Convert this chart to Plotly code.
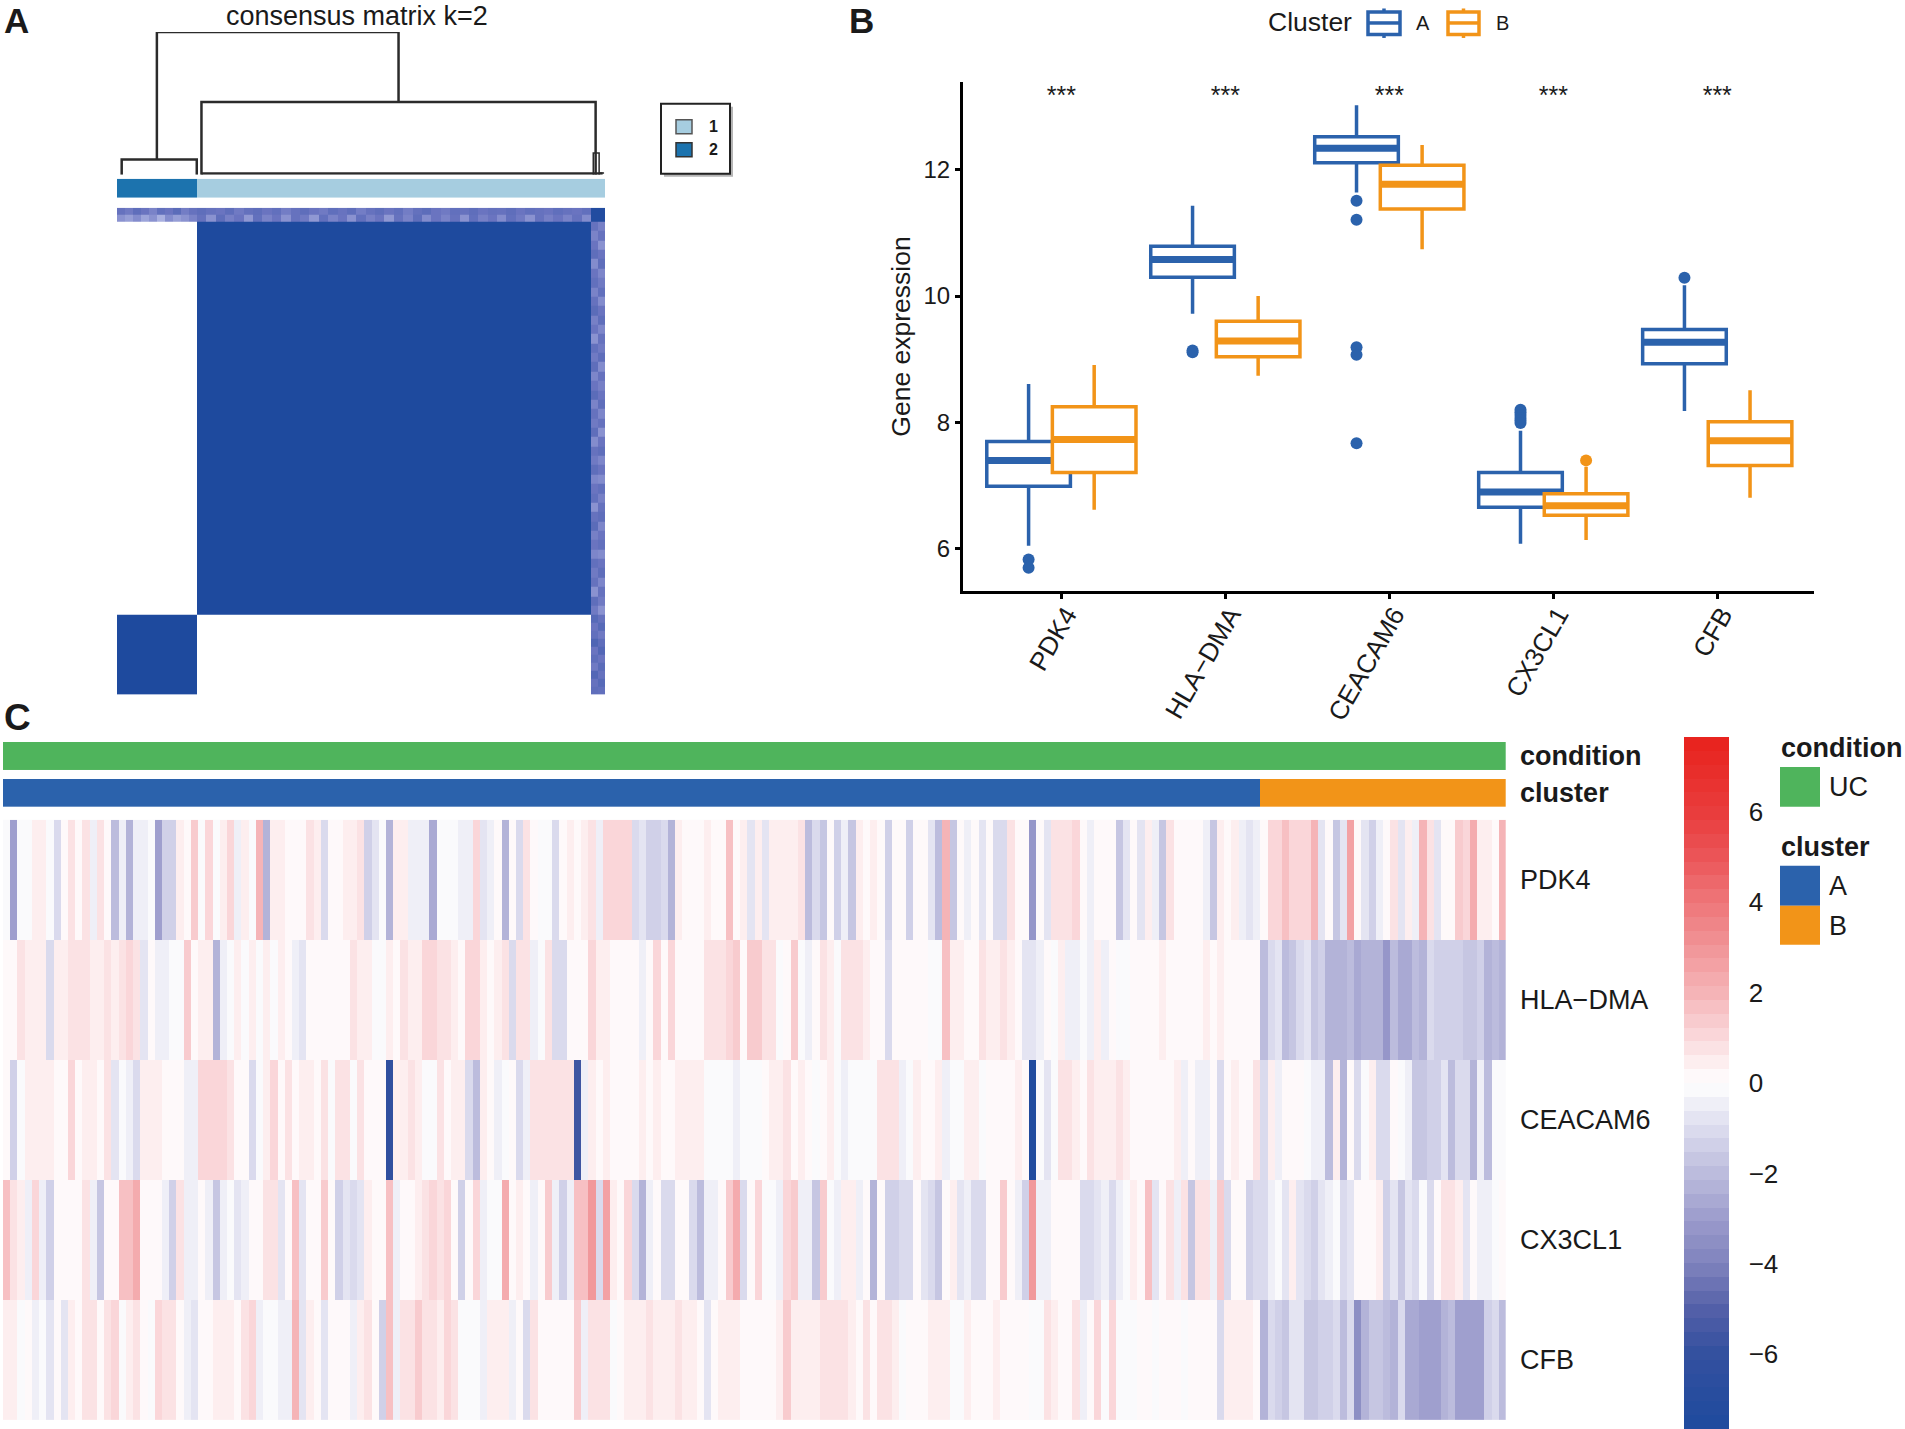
import numpy as np
import plotly.graph_objects as go

W, H = 1905, 1429
FONT = "Liberation Sans"
INK = "#1a1a1a"
BLUE = "#2B62AC"
ORANGE = "#F29418"
GREEN = "#4FB45C"


def X(p):
    return p / W


def Y(p):
    return 1 - (p + 1) / H


# ---------- Panel A data ----------
annotation_a = [2] * 34 + [1] * 174
top_band_upper = [.62, .58, .66, .60, .55, .64, .60, .68, .57, .62,
                  .66, .62, .60, .66, .58, .63, .66, .60, .64, .57, .62, .66, .60, .58, .65, .61,
                  .66, .57, .62, .66, .60, .64, .57, .63, .67, .60, .58, .64, .62, .66, .60, .63,
                  .62, .66, .60, .64, .62, .60, .65, .62, .60, .64, .98, .98]
top_band_lower = [.50, .46, .52, .44, .50, .40, .52, .46, .50, .55,
                  .62, .50, .66, .56, .60, .48, .64, .55, .60, .50, .62, .58, .48, .64, .55, .60,
                  .50, .64, .56, .60, .48, .62, .55, .66, .52, .60, .55, .62, .50, .64, .56, .60,
                  .52, .64, .58, .50, .62, .56, .60, .55, .62, .52, .98, .98]
right_band_left = [.62, .55, .60, .66, .52, .60, .64, .55, .62, .68, .56, .60, .50, .64, .58, .66, .54, .60,
                   .68, .55, .62, .58, .66, .52, .62, .58, .66, .54, .60, .64, .50, .62, .68, .56, .60, .54,
                   .64, .58, .62, .50, .66, .58, .70, .60, .64, .74, .60, .66, .58, .72, .62, .66]
right_band_right = [.56, .62, .50, .60, .66, .54, .58, .64, .52, .60, .66, .54, .62, .58, .66, .52, .62, .56,
                    .60, .66, .54, .62, .50, .60, .66, .54, .60, .52, .64, .56, .62, .66, .54, .60, .64, .52,
                    .60, .66, .54, .62, .58, .50, .62, .70, .58, .66, .72, .60, .68, .62, .70, .64]
dendro_x = [[2, 2, 34, 34], [17, 17, 120, 120], [36, 36, 204, 204], [36, 207], [203, 203, 205.5, 205.5], [205.5, 207.6]]
dendro_y = [[0, .106, .106, 0], [.106, 1, 1, .51], [0, .51, .51, 0], [.008, .008], [0, .153, .153, 0], [.012, .012]]
dendro_w = [2.5, 2.5, 2.5, 2.5, 1.5, 1.5]

# ---------- Panel B data ----------
genes_b = ["PDK4", "HLA\u2212DMA", "CEACAM6", "CX3CL1", "CFB"]
a_q1 = [6.99, 10.30, 12.11, 6.66, 8.93]
a_med = [7.40, 10.58, 12.34, 6.90, 9.27]
a_q3 = [7.70, 10.79, 12.52, 7.21, 9.47]
a_low = [6.05, 9.72, 11.64, 6.08, 8.18]
a_high = [8.61, 11.43, 13.02, 7.87, 10.17]
b_q1 = [7.21, 9.04, 11.38, 6.53, 7.32]
b_med = [7.73, 9.29, 11.77, 6.68, 7.71]
b_q3 = [8.25, 9.60, 12.07, 6.87, 8.01]
b_low = [6.62, 8.74, 10.74, 6.14, 6.81]
b_high = [8.91, 10.00, 12.39, 7.30, 8.51]
a_out_gene = [0, 0, 1, 1, 2, 2, 2, 2, 2, 3, 3, 3, 3, 3, 3, 4]
a_out_val = [5.83, 5.70, 9.14, 9.11, 11.51, 11.21, 9.19, 9.07, 7.67, 8.20, 8.16, 8.12, 8.07, 8.03, 7.99, 10.29]
b_out_gene = [3]
b_out_val = [7.40]
star_labels = ["***"] * 5

# ---------- Panel C data ----------
genes_c = ["PDK4", "HLA\u2212DMA", "CEACAM6", "CX3CL1", "CFB"]
condition = [0] * 208
cluster = ["A"] * 174 + ["B"] * 34
pdk4 = [-.1, -3, -.1, -.1, .4, .4, -.2, -1, 0, .7, .1, .9, -.5, .9, 0, -1.9, -.5, -2.2, -.6, -.6, -.2, -2.9, -1.3, -1.5, .6, 0,
        1.4, -.1, 1.1, -.2, .4, 1.1, -.5, .4, -.1, 2.1, -2.2, .6, .6, 0, 0, 0, .8, .6, -1, 0, 0, .4, .4, .7, -1.4, -.8,
        -.3, -2.2, .6, .4, -.6, -.6, -.6, -2.6, -.1, -.1, -.1, -.5, -.5, 1.2, -.9, -.5, .3, -2.2, 0, -1, .9, 0, -.1, -.1, -1, 0,
        .6, 0, .4, .9, -.6, 1.2, 1, 1.2, 1.2, -1.1, -.8, -1.4, -1.4, -1.1, -2.2, .5, 0, .3, 0, .4, .1, .3, 1.6, 0, .6, -.9, .6,
        -.9, .6, .4, .4, .4, .9, -2, -1.2, -1.8, .1, -1.5, -.5, -1.6, .5, 0, .4, 0, -1.5, .3, 0, -1.4, 0, 0, -.7, -2, 1.9, -1.8,
        0, -.6, 0, -.9, 0, -1.2, -1.2, .9, 0, 0, -3.3, .3, -.9, .8, .8, .8, 1, 0, -.4, .2, .1, .1, -1.8, -.9, 0,
        -.9, .6, -.5, -1.8, .8, .3, .3, 0, 0, -.5, -1.6, .5, 0, .4, -.4, -.9, -.4, 0, 1.2, 1.2, 1.7, 1.2, 1.2, 1.2, 2.1, -.8,
        0, -1.6, -.9, 2.6, 0, -.9, -1.5, -.5, 0, .7, -.9, .6, -.4, 1.9, .7, -.8, .3, 0, 1.4, 1.1, 2.2, .5, .5, 0, 1.9]
hla_dma = [.1, .1, .8, .4, .4, .4, -1, .4, .4, .9, .8, .9, .4, .6, .9, .4, .7, 1.1, .8, -.8, 0, -.5, -.5, -.2, -.2, 1.5,
           .1, .6, .5, -2.4, -.4, -.1, .4, -.1, .6, -.1, .4, -.1, .6, 0, -.5, -.9, .3, .3, .3, .3, 0, 0, .9, .4, .6, -.1,
           -.2, .6, 0, .9, .4, .6, 1.1, 1.1, .9, .9, .4, 0, 1.1, 1.2, .4, .1, .4, .7, -1.2, .7, .7, -.4, -.1, .9, -1.1, -1.1,
           0, 0, .2, 1.1, .4, .4, .1, 0, 0, 0, -.4, .1, 1, 0, 1.1, .3, 0, .3, 0, .7, .7, .7, 1, 1.4, 0, 1.3, 1.3,
           .7, .7, -.1, 0, 1.3, -.2, -.4, .3, .9, .6, -.2, .9, .9, .8, .5, .2, .1, -1, 0, 0, 0, 0, .1, -.2, -.2, 1.6, .6,
           .6, .1, 0, .8, .6, .6, .8, .6, 0, -.9, -.9, -.5, .1, -.1, .4, -.5, -.5, -.1, -.5, .5, -.4, 0, -.1, -.2, 0,
           0, .2, 0, .6, .3, .3, .2, 0, 0, .6, 0, .6, .1, 0, 0, 0, 0, -2, -1.1, -.9, -2, -1.7, -1.2, -.9, -1.8, -1.4,
           -2.3, -2.3, -2.3, -1.9, -2.6, -2.4, -2.4, -2.3, -3.1, -1.9, -2.6, -2.6, -1.9, -2.4, -1.2, -1.4, -1.4, -1.4, -1.4,
           -1.8, -1.8, -1.3, -2.4, -1.9, -2.2]
ceacam6 = [.1, -1.3, -.3, .4, .4, .5, .6, .1, .1, 1.2, 0, .4, .4, 0, .7, -.8, -.1, -.5, -1, .5, .4, .4, .1, .3, .1, -.5,
           -.5, 1, 1, 1.2, 1, .9, 0, .2, -1.2, -.1, .6, 1.2, 0, .7, .1, .4, .5, .2, .7, -.1, .8, .9, -.1, .9, .3, .3,
           0, -6.2, .5, .5, .7, .6, -.2, -.2, .9, 0, .4, .4, -1, -2, .4, 0, -.4, -.1, .2, -1.2, -.5, .9, .7, .7, .7, .7,
           .7, -5.7, -.6, .5, .3, .5, 0, 0, 0, .3, .5, .1, .5, .1, 0, .6, .5, .5, .5, -.1, -.1, -.1, -.1, -.5, -.2, -.2, -.2,
           0, .4, .4, .8, 0, .5, .1, -.2, .2, .4, -.1, -.5, -.2, -.2, -.2, -.2, .7, .7, .7, -.4, -.1, .4, 0, .3, .6, -.5,
           -.1, -.1, .4, .4, -.1, .2, 0, 0, .3, .6, .2, -7.4, -.1, -.9, -.1, .7, .7, .4, .1, .9, .5, .5, .6, .7, .4, .1,
           0, .3, .1, .1, 0, .4, -.6, 0, -.6, -.6, 0, -1, .1, .4, 0, .1, .8, -1, .4, -.4, 0, 0, 0, -.1, -.5, -.5,
           -1.9, .4, -2.3, .3, -1.2, -.1, .5, -1.2, -1.2, 0, -.1, -.5, -1.8, -1.8, -1.4, -1.4, -.9, -1.9, -1, -1, -2.3, -.5,
           -2, -.2, -.2]
cx3cl1 = [1.6, .7, .4, -.4, 1, -.4, -1.5, .2, 0, .3, 0, .9, -.5, -1.6, 0, .1, 1.7, 1.7, 2.3, 0, 0, .3, -.6, -1.4, .8, -.5,
          -.5, .3, -.5, -1.8, -.6, -.1, -.9, -.6, 0, 0, .9, .9, -.8, .2, 1.6, -.9, .1, 0, 1.5, 0, -1.4, -.9, -1.2, -.7, .4, 0,
          0, 1.6, -.5, .3, 0, .6, .7, 1.1, .8, 1.1, .3, -1.4, 0, 1.1, -.5, -.2, -.2, 2.3, .1, .6, 0, -.5, 0, 1.3, -.5, -1.3,
          -.4, 1.6, 1.8, 3, -1.2, 2.6, .4, 0, 1.1, -1, -2.2, -.5, 0, -1.2, -1, 0, 0, -1.1, -2, -.5, -.5, .3, 1.3, 2.4, -1.1, 0, 1.2,
          -.1, -.1, -.4, 1.2, 1.5, -.5, -.5, -1.8, 1.4, -.1, -.5, .6, .5, -.4, .1, -2.4, .3, -1.3, -1.3, -1, -1.2, .2, -.9, -1, -1.7, .1,
          .5, -.9, -.4, -1.2, -1.2, .1, .3, 1.4, 0, -.6, -1.3, 3, -.5, -.5, .3, .3, 0, 0, -1, -1, -.7, -.5, -1.1, -.4, -.1, .6,
          .3, 1.8, -.9, .3, .9, -.6, .9, -1.6, .9, .9, -.4, 1.3, -1, 0, .3, -1.3, -1.1, -1.1, -.6, -.3, -.9, .6, -.7, -1.2, -1.5, -.8,
          -.5, -.2, -1, -.9, 0, 0, 0, .5, -1.4, -.9, -1.6, -.9, -1.2, -.1, -1.2, 0, .8, .8, .4, -.8, 0, -.6, -.6, -.3, 0]
cfb = [.4, .5, -.1, .3, -.6, -.1, -.9, 0, -.9, .4, 0, .7, .7, 0, .7, 1.1, -.1, .6, .8, .3, -.1, 1.2, .9, .9, .1, -.5,
       -.9, 0, 0, .6, .4, .4, .1, .8, 1, -.4, -.1, -.1, -.5, -.5, 1.9, -.7, .4, .1, -.9, .2, 0, 0, -.4, .5, .7, 0,
       -1.4, 1.6, -.5, .7, .9, 1.5, .7, .8, .4, 1, .8, -.1, -.1, -.1, -.5, .6, .6, .5, -.5, 0, -1, .7, 0, 0, 0, 0,
       .2, 1.4, -.6, .7, .7, .9, -.1, 0, .6, .6, .4, .9, .4, .4, .6, .8, .5, .4, .1, -.8, .3, .4, .4, .6, 0, 0, 0,
       .1, .1, .6, 1.4, .4, .5, .5, .6, .7, .9, .9, .7, .6, 0, .9, .2, .9, .7, .4, -.3, .3, .3, .1, .6, .4, .5, -.1,
       -.1, .6, .3, 0, .1, .5, .3, .3, .2, 0, -.1, -.1, .7, .6, 0, 0, .7, -.4, .1, 1.1, -.1, 1, -.2, -.2, -.1,
       .1, .3, -.1, 0, 0, .3, -.1, 0, 0, 0, .2, -1, .4, .6, .6, .4, 0, -2.4, -1.1, -1.4, -1.8, -.9, -.9, -1.7, -1.7, -1.5,
       -1.5, -1, -2, -1, -3.5, -2.3, -1.7, -1.7, -1.9, -2.2, -1, -2.5, -2.5, -2.9, -2.9, -3, -2.2, -2, -3, -3, -3, -3, -1.5, -1.1, -2]
colorbar_ticks = [6, 4, 2, 0, -2, -4, -6]
ramp_values = [-7.65, -6, -5, -4, -3, -2, -1, 0, 1, 2, 3, 4, 5, 6, 7.65]
ramp_colors = ["#1E4A9E", "#33509F", "#5460A8", "#7F82BD", "#9C9CCC", "#BCBCDD", "#DCDCEE", "#FFFFFF",
               "#FAD9DC", "#F5B4B7", "#F19598", "#EE7679", "#EB5558", "#E93C3C", "#E8211C"]


def rgb(hexs):
    return [int(hexs[i:i + 2], 16) for i in (1, 3, 5)]


ramp_rgb = np.array([rgb(c) for c in ramp_colors], float)
scale_c = []
for i in range(50):
    v = -7.65 + (i + .5) * 15.3 / 50
    c = [int(round(np.interp(v, ramp_values, ramp_rgb[:, k]))) for k in range(3)]
    col = f"rgb({c[0]},{c[1]},{c[2]})"
    scale_c += [[i / 50, col], [(i + 1) / 50, col]]

heat_rows = [pdk4, hla_dma, ceacam6, cx3cl1, cfb]
for r in heat_rows:
    assert len(r) == 208, len(r)

fig = go.Figure()

# Panel A matrix
a_x = list(np.linspace(0, 34, 11)) + list(np.linspace(34, 202, 43)[1:]) + [205, 208]
a_y = [0, 3, 6] + list(np.linspace(6, 174, 43)[1:]) + list(np.linspace(174, 208, 11)[1:])
a_z = [top_band_upper, top_band_lower]
for r in range(42):
    a_z.append([0] * 10 + [1] * 42 + [right_band_left[r], right_band_right[r]])
for r in range(42, 52):
    a_z.append([1] * 10 + [0] * 42 + [right_band_left[r], right_band_right[r]])
fig.add_trace(go.Heatmap(x=a_x, y=a_y, z=a_z, zmin=0, zmax=1, showscale=False, hoverinfo="skip",
                         colorscale=[[0, "#FFFFFF"], [.4, "#A9B0E0"], [.6, "#6A74C0"], [1, "#1E4A9E"]],
                         xaxis="x", yaxis="y"))
fig.add_trace(go.Heatmap(z=[annotation_a], zmin=1, zmax=2, showscale=False, hoverinfo="skip",
                         colorscale=[[0, "#A6CDE0"], [1, "#1C73AE"]], xaxis="x2", yaxis="y2"))
for dx, dy, dw in zip(dendro_x, dendro_y, dendro_w):
    fig.add_trace(go.Scatter(x=dx, y=dy, mode="lines", line=dict(color="#2b2b2b", width=dw), showlegend=False,
                             hoverinfo="skip", xaxis="x3", yaxis="y3"))

# Panel B boxes
pos_a = [i - .2 for i in range(5)]
pos_b = [i + .2 for i in range(5)]
for pos, q1, med, q3, low, high, colr in [(pos_a, a_q1, a_med, a_q3, a_low, a_high, BLUE),
                                          (pos_b, b_q1, b_med, b_q3, b_low, b_high, ORANGE)]:
    fig.add_trace(go.Box(x=pos, q1=q1, median=med, q3=q3, lowerfence=low, upperfence=high, width=.51,
                         fillcolor="white", line=dict(color=colr, width=3.5), whiskerwidth=0, boxpoints=False,
                         showlegend=False, hoverinfo="skip", xaxis="x4", yaxis="y4"))
    fig.add_trace(go.Box(x=pos, q1=med, median=med, q3=med, lowerfence=med, upperfence=med, width=.505,
                         fillcolor=colr, line=dict(color=colr, width=7), whiskerwidth=0, boxpoints=False,
                         showlegend=False, hoverinfo="skip", xaxis="x4", yaxis="y4"))
fig.add_trace(go.Scatter(x=[pos_a[g] for g in a_out_gene], y=a_out_val, mode="markers",
                         marker=dict(color=BLUE, size=12), showlegend=False, hoverinfo="skip", xaxis="x4", yaxis="y4"))
fig.add_trace(go.Scatter(x=[pos_b[g] for g in b_out_gene], y=b_out_val, mode="markers",
                         marker=dict(color=ORANGE, size=12), showlegend=False, hoverinfo="skip", xaxis="x4", yaxis="y4"))
fig.add_trace(go.Scatter(x=list(range(5)), y=[13.14] * 5, mode="text", text=star_labels,
                         textfont=dict(family=FONT, size=25, color=INK), showlegend=False, hoverinfo="skip",
                         xaxis="x4", yaxis="y4"))

# Panel C
fig.add_trace(go.Heatmap(z=heat_rows, zmin=-7.65, zmax=7.65, colorscale=scale_c, hoverinfo="skip",
                         colorbar=dict(x=X(1684), xanchor="left", xpad=0, y=Y(736), yanchor="top", ypad=0,
                                       thickness=45, thicknessmode="pixels", len=691.5, lenmode="pixels",
                                       outlinewidth=0, tickvals=colorbar_ticks, ticks="outside", ticklen=15,
                                       tickcolor="rgba(0,0,0,0)", tickfont=dict(family=FONT, size=26, color=INK)),
                         xaxis="x5", yaxis="y5"))
fig.add_trace(go.Heatmap(z=[condition], zmin=0, zmax=1, showscale=False, hoverinfo="skip",
                         colorscale=[[0, GREEN], [1, GREEN]], xaxis="x6", yaxis="y6"))
fig.add_trace(go.Heatmap(z=[[0 if c == "A" else 1 for c in cluster]], zmin=0, zmax=1, showscale=False, hoverinfo="skip",
                         colorscale=[[0, BLUE], [1, ORANGE]], xaxis="x7", yaxis="y7"))


def hidden(dom, rng=None, **kw):
    d = dict(domain=dom, visible=False, fixedrange=True)
    if rng:
        d["range"] = rng
    d.update(kw)
    return d


layout = dict(
    width=W, height=H, margin=dict(l=0, r=0, t=0, b=0), paper_bgcolor="white", plot_bgcolor="white",
    font=dict(family=FONT, color=INK), showlegend=False, boxmode="overlay",
    xaxis=hidden([X(117), X(605)], [0, 208], anchor="y"),
    yaxis=hidden([Y(693.5), Y(206)], [208, 0], anchor="x"),
    xaxis2=hidden([X(117), X(605)], [-.5, 207.5], anchor="y2"),
    yaxis2=hidden([Y(196), Y(177)], [-.5, .5], anchor="x2"),
    xaxis3=hidden([X(117), X(605)], [0, 208], anchor="y3"),
    yaxis3=hidden([Y(173), Y(30)], [0, 1], anchor="x3"),
    xaxis4=dict(domain=[X(963), X(1814)], range=[-.6, 4.59], anchor="y4", showline=True, linecolor="black", linewidth=3,
                ticks="outside", ticklen=5, tickwidth=3, tickcolor="black", tickvals=list(range(5)), ticktext=genes_b,
                tickangle=-60, tickfont=dict(family=FONT, size=26, color=INK), showgrid=False, zeroline=False,
                ticklabelstandoff=-10, ticklabelshift=5),
    yaxis4=dict(domain=[Y(590), Y(80)], range=[5.33, 13.39], anchor="x4", showline=True, linecolor="black", linewidth=3,
                ticks="outside", ticklen=5, tickwidth=3, tickcolor="black", tickvals=[6, 8, 10, 12],
                tickfont=dict(family=FONT, size=24, color=INK), showgrid=False, zeroline=False,
                title=dict(text="Gene expression", font=dict(family=FONT, size=26.5, color=INK), standoff=6)),
    xaxis5=hidden([X(3), X(1505.7)], [-.5, 207.5], anchor="y5"),
    yaxis5=dict(domain=[Y(1420), Y(819)], range=[4.5, -.5], anchor="x5", side="right", tickvals=list(range(5)),
                ticktext=genes_c, ticks="outside", ticklen=8, tickcolor="rgba(0,0,0,0)", showgrid=False, zeroline=False,
                showline=False, tickfont=dict(family=FONT, size=27, color=INK)),
    xaxis6=hidden([X(3), X(1505.7)], [-.5, 207.5], anchor="y6"),
    yaxis6=dict(domain=[Y(769), Y(741)], range=[-.5, .5], anchor="x6", side="right", tickvals=[0],
                ticktext=["<b>condition</b>"], ticks="outside", ticklen=8, tickcolor="rgba(0,0,0,0)", showgrid=False,
                zeroline=False, showline=False, tickfont=dict(family=FONT, size=27, color=INK)),
    xaxis7=hidden([X(3), X(1505.7)], [-.5, 207.5], anchor="y7"),
    yaxis7=dict(domain=[Y(806), Y(778)], range=[-.5, .5], anchor="x7", side="right", tickvals=[0],
                ticktext=["<b>cluster</b>"], ticks="outside", ticklen=8, tickcolor="rgba(0,0,0,0)", showgrid=False,
                zeroline=False, showline=False, tickfont=dict(family=FONT, size=27, color=INK)),
)

shapes = []


def rect(x0, y0, x1, y1, fill=None, line=None, lw=0):
    shapes.append(dict(type="rect", xref="paper", yref="paper", x0=X(x0), x1=X(x1), y0=Y(y1), y1=Y(y0),
                       fillcolor=fill or "rgba(0,0,0,0)", line=dict(color=line or "rgba(0,0,0,0)", width=lw)))


def seg(x0, y0, x1, y1, colr, lw):
    shapes.append(dict(type="line", xref="paper", yref="paper", x0=X(x0), x1=X(x1), y0=Y(y0), y1=Y(y1),
                       line=dict(color=colr, width=lw)))


# Panel A key
rect(664, 105, 733, 175, fill="#b5b5b5")
rect(661, 102, 730, 172, fill="white", line="#222222", lw=2)
rect(676, 118, 692, 132, fill="#A6CDE0", line="#555555", lw=1.5)
rect(676, 141, 692, 155, fill="#1C73AE", line="#333333", lw=1.5)
# Panel B key
for x0, x1, colr in [(1368, 1400, BLUE), (1448, 1479, ORANGE)]:
    xm = (x0 + x1) / 2
    seg(xm, 6.5, xm, 36, colr, 3.5)
    rect(x0, 10, x1, 32.6, fill="white", line=colr, lw=3.5)
    seg(x0, 21, x1, 21, colr, 3.5)
# Panel C keys
rect(1780, 766, 1820, 806, fill=GREEN)
rect(1780, 865, 1820, 905, fill=BLUE)
rect(1780, 905, 1820, 944, fill=ORANGE)
layout["shapes"] = shapes

notes = []


def note(text, x, y, size, anchor="center", bold=False):
    notes.append(dict(text=f"<b>{text}</b>" if bold else text, x=X(x), y=Y(y), xref="paper", yref="paper", showarrow=False,
                      xanchor=anchor, yanchor="middle", font=dict(family=FONT, size=size, color=INK)))


note("A", 2, 19, 35, "left", True)
note("B", 847, 19, 35, "left", True)
note("C", 2, 717, 37, "left", True)
note("consensus matrix k=2", 357, 14, 27)
note("1", 713, 125, 16, bold=True)
note("2", 713, 148, 16, bold=True)
note("Cluster", 1310, 20, 26.5)
note("A", 1423, 21, 20)
note("B", 1502, 21, 20)
note("condition", 1779, 747, 27, "left", True)
note("UC", 1827, 786, 27, "left")
note("cluster", 1779, 846, 27, "left", True)
note("A", 1827, 885, 27, "left")
note("B", 1827, 925, 27, "left")
layout["annotations"] = notes

fig.update_layout(**layout)
fig.write_html("out.html", config={"displayModeBar": False},
               post_script="document.body.style.margin='0';document.documentElement.style.overflow='hidden';")
